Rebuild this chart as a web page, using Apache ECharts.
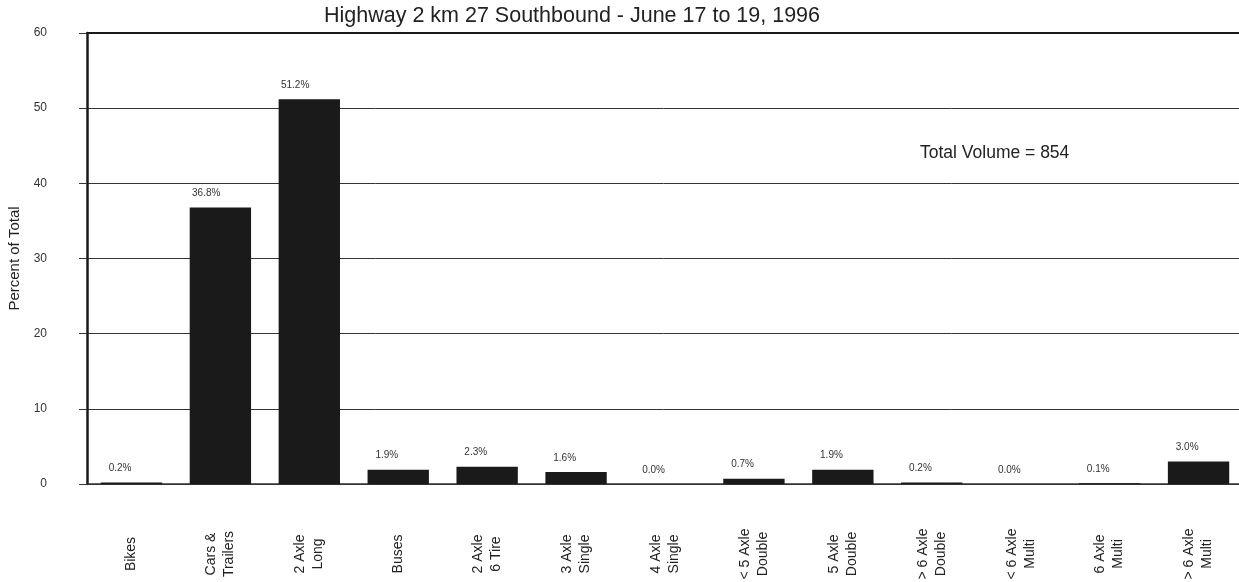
<!DOCTYPE html>
<html>
<head>
<meta charset="utf-8">
<script src="https://cdn.jsdelivr.net/npm/echarts@6/dist/echarts.min.js"></script>
<style>
  html, body { margin: 0; padding: 0; background: #fff; }
  #chart { width: 1239px; height: 582px; }
</style>
</head>
<body>
<div id="chart"></div>
<script>
const categories = [
  'Bikes', 'Cars &\nTrailers', '2 Axle\nLong', 'Buses', '2 Axle\n6 Tire',
  '3 Axle\nSingle', '4 Axle\nSingle', '< 5 Axle\nDouble', '5 Axle\nDouble',
  '> 6 Axle\nDouble', '< 6 Axle\nMulti', '6 Axle\nMulti', '> 6 Axle\nMulti',
]
const percents = [0.2, 36.8, 51.2, 1.9, 2.3, 1.6, 0.0, 0.7, 1.9, 0.2, 0.0, 0.1, 3.0]
const yTicks = { min: 0, max: 60, interval: 10 }
const titleText = 'Highway 2 km 27 Southbound - June 17 to 19, 1996'
const noteText = 'Total Volume = 854'

const FONT = "'Liberation Sans', Arial, sans-serif"
const INK = '#1a1a1a'

const chart = echarts.init(document.getElementById('chart'))

chart.setOption({
  animation: false,
  textStyle: { fontFamily: FONT },
  title: {
    text: titleText,
    left: 567,
    top: 0,
    textAlign: 'center',
    textStyle: { fontSize: 21.5, fontWeight: 'normal', color: '#222', fontFamily: FONT },
  },
  graphic: [
    {
      type: 'text',
      x: 920,
      y: 153,
      style: {
        text: noteText,
        fill: '#222',
        fontSize: 17.5,
        fontFamily: FONT,
        verticalAlign: 'middle',
      },
    },
  ],
  grid: { left: 87, right: -4, top: 33, bottom: 98, outerBoundsMode: 'none' },
  xAxis: [
    {
      type: 'category',
      data: categories,
      position: 'bottom',
      axisLine: { lineStyle: { color: '#333', width: 1.5 } },
      axisTick: { show: false },
      axisLabel: {
        interval: 0,
        rotate: 90,
        align: 'center',
        verticalAlign: 'middle',
        margin: 70,
        fontSize: 14,
        lineHeight: 18,
        color: '#222',
        fontFamily: FONT,
      },
    },
    {
      // top border of the plot
      type: 'category',
      data: categories,
      position: 'top',
      axisLine: { lineStyle: { color: INK, width: 2 } },
      axisTick: { show: false },
      axisLabel: { show: false },
    },
  ],
  yAxis: {
    type: 'value',
    min: yTicks.min,
    max: yTicks.max,
    interval: yTicks.interval,
    name: 'Percent of Total',
    nameLocation: 'middle',
    nameGap: 65,
    nameTextStyle: { fontSize: 15, color: '#222', fontFamily: FONT },
    axisLine: { show: true, lineStyle: { color: INK, width: 2.5 } },
    axisTick: { show: true, length: 8, lineStyle: { color: '#333', width: 1 } },
    axisLabel: { margin: 40, fontSize: 12, color: '#333', fontFamily: FONT },
    splitLine: { lineStyle: { color: '#333', width: 1 } },
  },
  series: [
    {
      type: 'bar',
      data: percents,
      barWidth: '69%',
      itemStyle: { color: INK },
      label: {
        show: true,
        position: 'top',
        align: 'right',
        offset: [0, -4],
        fontSize: 10,
        color: '#333',
        fontFamily: FONT,
        formatter: (p) => p.value.toFixed(1) + '%',
      },
    },
  ],
})
</script>
</body>
</html>
